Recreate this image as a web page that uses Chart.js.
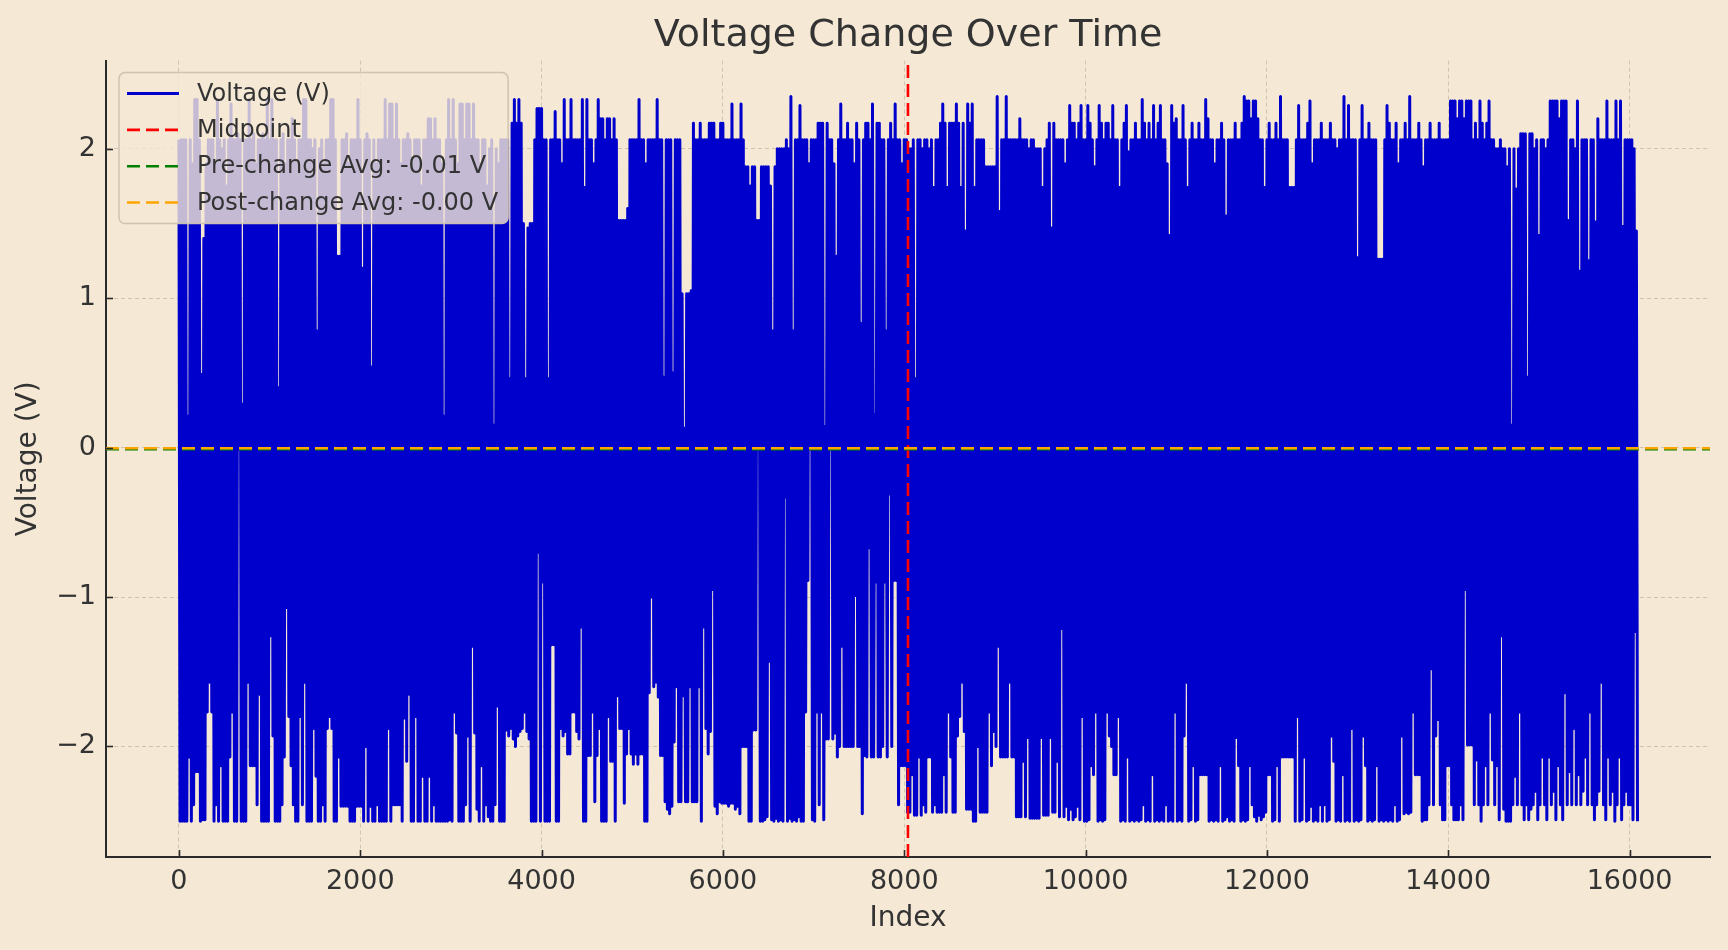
<!DOCTYPE html>
<html>
<head>
<meta charset="utf-8">
<script src="https://cdn.jsdelivr.net/npm/chart.js@4.4.1/dist/chart.umd.min.js"></script>
<style>
html,body{margin:0;padding:0;background:#f5e9d5;}
canvas{display:block;}
</style>
</head>
<body>
<canvas id="chart" width="1728" height="950"></canvas>
<script>
// ---- data ----
// Each pair (high, low) describes the voltage envelope over one block of 25 samples.
const sampleStep = 25;
const voltageHighs = [
 2.06,2.06,2.06,2.06,0.21,2.06,1.9,2.33,2.33,2.06, 0.49,1.4,1.9,2.06,2.06,2.06,1.9,2.33,2.06,2.0, 2.06,1.75,2.06,2.3,2.06,2.06,2.1,2.06,0.29,2.06, 2.06,2.33,2.06,2.1,1.9,2.06,2.06,2.1,2.06,2.33,
 2.06,2.33,2.06,2.06,0.4,2.06,2.1,1.9,2.06,2.06, 2.2,2.06,1.9,2.06,2.06,2.33,2.33,2.06,2.06,2.0, 2.06,0.78,2.0,2.06,1.9,2.06,2.06,2.33,2.33,2.06, 1.28,1.28,2.06,2.06,2.1,1.9,2.06,2.06,2.06,2.33,
 2.06,1.2,2.06,2.1,2.06,0.54,2.06,1.9,2.06,2.06, 2.06,2.33,2.06,2.3,2.3,2.06,2.3,2.06,1.9,2.06, 2.06,2.1,2.06,1.9,2.06,2.06,2.06,1.75,2.06,2.06, 2.2,2.2,2.06,2.2,2.06,2.06,1.9,0.21,2.06,2.33,
 2.06,2.33,2.06,1.9,2.3,2.3,2.06,2.3,2.3,2.06, 2.3,2.06,2.06,1.9,2.06,2.06,1.75,2.0,2.06,0.15, 2.0,1.9,2.06,2.06,2.06,2.06,0.46,2.17,2.33,2.17, 2.33,2.17,1.5,0.46,1.47,1.5,1.5,2.06,2.27,2.27,
 2.27,2.06,2.06,0.46,2.06,2.06,2.25,2.06,2.06,1.9, 2.33,2.06,2.06,2.33,2.06,2.06,2.06,2.06,2.33,1.74, 2.33,2.06,2.06,1.9,2.06,2.33,2.2,2.2,2.06,2.2, 2.2,2.06,2.2,2.06,1.52,1.52,1.52,1.52,1.6,2.06,
 2.06,2.06,2.06,2.33,2.06,2.06,1.9,2.06,2.06,2.06, 2.06,2.33,2.06,2.06,0.47,2.06,2.06,2.06,0.5,2.06, 2.06,2.06,1.03,0.13,1.03,1.03,1.05,2.17,2.06,2.06, 2.17,2.06,2.06,2.06,2.17,2.17,2.17,2.06,2.06,2.17,
 2.17,2.06,2.06,2.06,2.3,2.06,2.06,2.06,2.3,2.06, 1.88,1.88,1.75,1.88,1.88,1.52,1.52,1.88,1.88,1.88, 1.88,1.75,0.78,1.88,2.0,2.0,2.0,2.0,2.06,2.0, 2.35,0.78,2.06,2.06,2.29,2.06,2.06,2.06,1.9,2.06,
 2.06,2.06,2.17,2.17,2.17,0.14,2.17,2.06,2.06,1.9, 1.28,2.06,2.3,2.06,2.06,2.17,2.06,2.06,1.9,2.17, 2.06,0.83,2.06,2.17,2.17,2.06,2.3,0.22,2.17,2.17, 2.06,2.06,0.78,2.06,2.17,2.06,2.3,2.06,2.06,1.9,
 2.06,2.06,2.0,2.0,2.06,0.46,2.06,2.06,2.0,2.06, 2.06,2.0,2.06,1.74,2.06,2.06,2.17,2.3,2.17,1.74, 2.17,2.17,2.17,2.3,2.17,1.74,2.17,1.45,2.3,2.17, 2.3,1.74,2.06,2.06,2.06,2.06,1.88,1.88,1.88,1.88,
 1.88,2.35,1.58,2.06,2.06,2.35,2.06,2.06,2.06,2.06, 2.06,2.2,2.06,2.06,2.06,2.0,2.06,2.06,2.0,2.0, 2.0,1.74,2.0,2.06,2.17,1.47,2.17,2.06,2.06,2.06, 2.06,1.9,2.06,2.29,2.17,2.17,2.06,2.17,2.29,2.06,
 2.06,2.29,2.17,2.06,1.88,2.06,2.29,2.17,2.06,2.17, 2.17,2.06,2.29,2.06,2.06,1.74,2.06,2.17,2.29,1.98, 2.06,2.06,2.17,2.06,2.06,2.33,2.17,2.06,2.17,2.06, 2.29,2.06,2.17,2.29,2.06,2.06,1.9,1.42,2.29,2.17,
 2.2,2.06,2.06,2.29,2.06,1.74,2.06,2.17,2.06,2.06, 2.17,2.06,2.06,2.33,2.2,2.06,2.06,1.9,2.06,2.06, 2.17,2.06,1.55,2.06,2.06,2.06,2.17,2.06,2.06,2.17, 2.35,2.32,2.32,2.2,2.32,2.32,2.2,2.06,2.06,1.74,
 2.06,2.17,2.06,2.06,2.17,2.06,2.35,2.06,2.06,2.06, 1.74,1.74,1.74,2.06,2.29,2.06,2.06,2.06,2.17,2.32, 1.9,2.06,2.06,2.06,2.17,2.06,2.06,2.06,2.17,2.06, 2.06,2.0,2.06,2.06,2.35,2.06,2.29,2.06,2.06,2.06,
 1.27,2.06,2.29,2.06,2.06,2.17,2.06,2.06,2.06,1.26, 1.26,1.26,2.06,2.29,2.17,2.06,2.06,2.17,1.9,2.06, 2.06,2.17,2.06,2.35,2.06,2.06,2.06,2.17,2.06,1.88, 2.06,2.06,2.17,2.06,2.06,2.06,2.17,2.06,2.06,2.06,
 2.06,2.32,2.32,2.32,2.2,2.32,2.32,2.2,2.32,2.32, 2.32,2.06,2.17,2.06,2.32,2.17,2.06,2.17,2.32,2.06, 2.06,2.0,2.0,2.06,2.0,2.0,1.88,2.0,0.15,2.0, 1.73,2.0,2.1,2.1,2.1,0.47,2.1,2.1,2.0,2.06,
 1.42,2.06,2.06,2.0,2.06,2.32,2.32,2.32,2.32,2.2, 2.32,2.32,2.32,1.52,2.06,2.06,2.0,2.32,1.18,2.06, 2.06,2.06,1.25,2.06,2.06,1.51,2.2,2.06,2.06,2.06, 2.32,2.06,2.06,2.06,2.32,2.06,2.32,1.48,2.06,2.06,
 2.06,2.06,2.0,1.45
];
const voltageLows = [
 -2.5,-2.5,-2.5,-2.5,-2.07,-2.5,-2.39,-2.17,-2.17,-2.5, -2.49,-2.49,-1.77,-1.57,-1.77,-2.5,-2.39,-2.5,-2.13,-2.5, -2.5,-2.5,-2.07,-1.77,-2.5,-2.5,-0.01,-2.5,-2.5,-2.5, -1.57,-2.13,-2.13,-2.13,-2.39,-1.65,-2.5,-2.5,-2.5,-2.5,
 -1.26,-1.93,-2.5,-2.5,-2.5,-2.39,-2.07,-1.07,-1.8,-2.13, -2.39,-2.5,-2.5,-1.8,-2.39,-1.57,-2.5,-2.5,-2.5,-1.88, -2.2,-2.5,-2.5,-2.39,-2.5,-1.88,-1.8,-1.88,-2.5,-2.5, -2.07,-2.4,-2.4,-2.4,-2.4,-2.5,-2.5,-2.5,-2.4,-2.4,
 -2.4,-2.5,-2.0,-2.5,-2.4,-2.5,-2.5,-2.39,-2.5,-2.5, -2.5,-2.5,-1.88,-2.5,-2.39,-2.39,-2.39,-2.39,-2.5,-1.81, -2.1,-1.65,-2.5,-2.5,-1.8,-2.5,-2.5,-2.2,-2.5,-2.5, -2.2,-2.5,-2.39,-2.5,-2.5,-2.5,-2.5,-2.5,-2.5,-2.49,
 -2.5,-1.77,-1.91,-2.5,-2.5,-2.5,-2.39,-1.93,-2.5,-1.33, -1.91,-2.42,-2.5,-2.13,-2.5,-2.39,-2.47,-2.5,-2.5,-2.39, -1.73,-2.5,-2.5,-2.5,-1.89,-1.93,-1.88,-1.95,-2.0,-1.93, -1.9,-1.88,-1.77,-1.9,-1.95,-2.5,-2.5,-2.5,-0.7,-2.5,
 -0.9,-2.5,-2.5,-2.5,-1.32,-1.32,-2.5,-2.5,-1.88,-1.93, -1.9,-2.05,-2.05,-1.77,-1.77,-1.9,-1.95,-1.2,-2.5,-2.5, -2.06,-2.06,-1.77,-2.37,-2.06,-1.88,-2.5,-2.5,-2.5,-1.8, -2.1,-2.1,-2.5,-1.66,-1.88,-1.88,-2.38,-2.05,-1.88,-2.05,
 -2.12,-2.05,-2.12,-2.05,-2.05,-2.5,-2.5,-1.64,-1.0,-1.6, -1.57,-1.67,-2.06,-2.06,-2.37,-2.42,-2.45,-2.4,-1.97,-1.6, -2.37,-2.37,-1.66,-2.37,-2.37,-1.6,-2.37,-2.37,-2.37,-1.6, -2.5,-1.2,-1.88,-2.05,-1.9,-0.95,-2.4,-2.45,-2.37,-2.38,
 -2.38,-2.38,-2.4,-2.38,-2.38,-2.42,-2.4,-2.45,-2.0,-2.0, -2.0,-2.5,-2.5,-1.89,-1.89,-0.01,-2.5,-2.5,-2.49,-2.47, -1.43,-2.49,-2.5,-2.48,-2.5,-2.49,-2.5,-0.33,-2.5,-2.48, -2.5,-2.49,-2.5,-2.47,-2.5,-2.5,-1.77,-0.89,-0.01,-2.49,
 -2.5,-1.77,-2.39,-1.77,-2.49,-1.95,-1.95,-0.01,-1.95,-1.91, -2.07,-2.0,-1.33,-2.0,-2.0,-2.0,-2.0,-2.0,-0.99,-2.0, -2.0,-2.45,-2.06,-2.07,-0.67,-2.07,-2.07,-0.9,-2.07,-2.07, -2.0,-0.9,-2.07,-0.31,-2.0,-0.89,-0.89,-2.39,-2.13,-2.13,
 -2.13,-2.44,-2.44,-2.19,-2.46,-2.46,-2.07,-2.46,-2.39,-2.44, -2.07,-2.07,-2.44,-2.39,-2.44,-2.44,-2.44,-2.19,-2.44,-1.77, -2.07,-2.44,-2.44,-1.93,-1.8,-1.57,-1.9,-2.42,-2.42,-2.42, -2.5,-2.5,-2.0,-2.44,-2.44,-2.44,-2.44,-1.77,-2.13,-1.9,
 -2.0,-1.33,-2.07,-2.07,-2.07,-2.07,-1.57,-2.07,-2.07,-2.47, -2.47,-2.47,-2.1,-2.47,-1.94,-2.48,-2.48,-2.48,-2.48,-2.48, -1.94,-2.46,-2.46,-2.46,-1.94,-2.44,-2.44,-2.1,-2.47,-1.21, -2.47,-2.4,-2.49,-2.42,-2.49,-2.47,-2.4,-2.49,-1.8,-2.5,
 -2.5,-2.49,-2.13,-2.19,-1.77,-2.5,-2.49,-2.5,-2.49,-1.77, -1.93,-2.0,-2.19,-2.19,-1.8,-2.5,-2.49,-2.5,-2.07,-2.5, -2.49,-2.5,-2.49,-2.5,-2.49,-2.39,-2.5,-2.49,-2.5,-2.19, -2.5,-2.49,-2.5,-2.49,-2.5,-2.39,-2.5,-2.49,-2.5,-1.77,
 -2.5,-2.49,-2.5,-1.93,-1.57,-2.5,-2.49,-2.13,-2.5,-2.49, -2.19,-2.19,-2.19,-2.19,-2.5,-2.49,-2.5,-2.49,-2.5,-2.13, -2.5,-2.49,-2.47,-2.5,-2.49,-2.5,-1.94,-2.13,-2.5,-2.49, -2.5,-2.49,-2.13,-2.39,-2.47,-2.5,-2.46,-2.49,-2.47,-2.44,
 -2.19,-2.19,-2.5,-2.49,-2.13,-2.5,-2.07,-2.07,-2.07,-2.07, -2.07,-2.07,-2.5,-1.8,-2.5,-2.49,-2.07,-2.5,-2.49,-2.4, -2.5,-2.49,-2.5,-2.39,-2.5,-2.39,-2.5,-2.49,-1.93,-2.1, -2.5,-2.49,-2.5,-2.19,-2.5,-2.49,-2.5,-1.88,-2.5,-2.49,
 -2.5,-2.49,-1.93,-2.13,-2.5,-2.49,-2.5,-2.49,-2.13,-2.5, -2.49,-2.5,-2.49,-2.5,-2.49,-2.5,-2.39,-2.5,-2.49,-1.93, -2.45,-2.44,-2.45,-2.44,-1.77,-2.19,-2.19,-2.19,-2.5,-2.49, -2.49,-2.39,-1.48,-2.39,-1.93,-1.82,-2.39,-2.49,-2.49,-2.13,
 -2.13,-2.39,-2.49,-2.49,-2.49,-2.39,-2.49,-0.95,-1.99,-1.99, -1.99,-2.39,-2.09,-2.39,-2.5,-2.39,-2.13,-2.39,-1.77,-2.09, -2.39,-2.13,-2.49,-1.26,-2.42,-2.5,-2.5,-2.5,-2.39,-2.2, -2.39,-1.77,-2.39,-2.49,-2.39,-2.49,-2.42,-2.39,-2.3,-2.49,
 -2.39,-2.07,-2.39,-2.49,-2.07,-2.39,-2.3,-2.49,-2.13,-2.39, -2.49,-1.64,-2.39,-2.17,-2.39,-1.88,-2.39,-2.19,-2.39,-2.3, -2.07,-2.39,-1.77,-2.39,-2.49,-2.39,-2.3,-1.57,-2.39,-2.49, -2.07,-2.39,-2.3,-2.5,-2.39,-2.07,-2.49,-2.39,-2.3,-2.39,
 -2.39,-2.49,-1.23,-2.5
];
const midpointIndex = 8041;
const preChangeAvg = -0.01;
const postChangeAvg = -0.004;
const xTickValues = [0, 2000, 4000, 6000, 8000, 10000, 12000, 14000, 16000];
const yTickValues = [-2, -1, 0, 1, 2];
const xLimits = [-804, 16887];
const yLimits = [-2.74, 2.59];

// ---- build the series the library needs ----
const voltagePoints = [];
voltageHighs.forEach((hi, i) => {
  voltagePoints.push({x: i * sampleStep, y: hi});
  voltagePoints.push({x: i * sampleStep + sampleStep / 2, y: voltageLows[i]});
});

const BG = '#f5e9d5';
const TEXT = '#333333';
const FONT = '"DejaVu Sans", "Noto Sans", sans-serif';
Chart.defaults.font.family = FONT;
Chart.defaults.color = TEXT;

const bgPlugin = {
  id: 'bg',
  beforeDraw(chart) {
    const {ctx, width, height} = chart;
    ctx.save(); ctx.fillStyle = BG; ctx.fillRect(0, 0, width, height); ctx.restore();
  }
};

const innerTicks = {
  id: 'innerTicks',
  afterDatasetsDraw(chart) {
    const {ctx, chartArea, scales} = chart;
    ctx.save();
    ctx.strokeStyle = '#2b2b2b';
    ctx.lineWidth = 1.6;
    scales.x.ticks.forEach(t => {
      const px = Math.round(scales.x.getPixelForValue(t.value)) + 0.5;
      ctx.beginPath(); ctx.moveTo(px, chartArea.bottom); ctx.lineTo(px, chartArea.bottom - 7); ctx.stroke();
    });
    scales.y.ticks.forEach(t => {
      const py = Math.round(scales.y.getPixelForValue(t.value)) + 0.5;
      ctx.beginPath(); ctx.moveTo(chartArea.left, py); ctx.lineTo(chartArea.left + 7, py); ctx.stroke();
    });
    ctx.restore();
  }
};

const insideLegend = {
  id: 'insideLegend',
  afterDraw(chart) {
    const {ctx, chartArea} = chart;
    const items = chart.data.datasets.map(ds => ({
      label: ds.label, color: ds.borderColor, dash: ds.borderDash || [], width: ds.borderWidth
    }));
    ctx.save();
    ctx.font = '24px ' + FONT;
    const textW = Math.max(...items.map(it => ctx.measureText(it.label).width));
    const x0 = chartArea.left + 13, y0 = chartArea.top + 12;
    const padL = 8, handleLen = 52, gap = 18, padR = 10, firstRow = 21, rowH = 36.3;
    const w = padL + handleLen + gap + textW + padR;
    const h = firstRow + rowH * (items.length - 1) + 21;
    const r = 6;
    ctx.beginPath();
    ctx.moveTo(x0 + r, y0);
    ctx.lineTo(x0 + w - r, y0); ctx.arcTo(x0 + w, y0, x0 + w, y0 + r, r);
    ctx.lineTo(x0 + w, y0 + h - r); ctx.arcTo(x0 + w, y0 + h, x0 + w - r, y0 + h, r);
    ctx.lineTo(x0 + r, y0 + h); ctx.arcTo(x0, y0 + h, x0, y0 + h - r, r);
    ctx.lineTo(x0, y0 + r); ctx.arcTo(x0, y0, x0 + r, y0, r);
    ctx.closePath();
    ctx.fillStyle = 'rgba(245,233,213,0.8)';
    ctx.fill();
    ctx.strokeStyle = 'rgba(204,194,176,0.95)';
    ctx.lineWidth = 1.5;
    ctx.stroke();
    items.forEach((it, i) => {
      const cy = y0 + firstRow + i * rowH;
      ctx.beginPath();
      ctx.setLineDash(it.dash);
      ctx.strokeStyle = it.color;
      ctx.lineWidth = it.width;
      ctx.lineCap = 'butt';
      ctx.moveTo(x0 + padL, cy); ctx.lineTo(x0 + padL + handleLen, cy);
      ctx.stroke();
      ctx.setLineDash([]);
      ctx.fillStyle = TEXT;
      ctx.textBaseline = 'middle';
      ctx.textAlign = 'left';
      ctx.fillText(it.label, x0 + padL + handleLen + gap, cy + 1);
    });
    ctx.restore();
  }
};

const fmtMinus = v => (v < 0 ? '\u2212' + Math.abs(v) : String(v));

new Chart(document.getElementById('chart'), {
  type: 'line',
  data: {
    datasets: [
      {
        label: 'Voltage (V)',
        data: voltagePoints,
        borderColor: 'rgb(0,0,205)',
        borderWidth: 3,
        borderJoinStyle: 'round',
        pointRadius: 0,
        tension: 0,
        fill: false,
        order: 4
      },
      {
        label: 'Midpoint',
        data: [{x: midpointIndex, y: yLimits[0]}, {x: midpointIndex, y: yLimits[1]}],
        borderColor: '#ff0000',
        borderWidth: 2.6,
        borderDash: [13, 6],
        pointRadius: 0,
        fill: false,
        order: 3
      },
      {
        label: 'Pre-change Avg: ' + preChangeAvg.toFixed(2) + ' V',
        data: [{x: xLimits[0], y: preChangeAvg}, {x: xLimits[1], y: preChangeAvg}],
        borderColor: '#008000',
        borderWidth: 2.6,
        borderDash: [13, 6],
        pointRadius: 0,
        fill: false,
        order: 2
      },
      {
        label: 'Post-change Avg: ' + postChangeAvg.toFixed(2) + ' V',
        data: [{x: xLimits[0], y: postChangeAvg}, {x: xLimits[1], y: postChangeAvg}],
        borderColor: '#ffa500',
        borderWidth: 2.6,
        borderDash: [13, 6],
        pointRadius: 0,
        fill: false,
        order: 1
      }
    ]
  },
  options: {
    responsive: false,
    devicePixelRatio: 1,
    animation: false,
    events: [],
    layout: {padding: {left: 0, right: 18, top: 0, bottom: 0}},
    plugins: {
      legend: {display: false},
      tooltip: {enabled: false},
      title: {
        display: true,
        fullSize: false,
        text: 'Voltage Change Over Time',
        color: TEXT,
        font: {size: 38, weight: 'normal', family: FONT, lineHeight: 1.2},
        padding: {top: 13, bottom: 2}
      }
    },
    scales: {
      x: {
        type: 'linear',
        min: xLimits[0],
        max: xLimits[1],
        afterBuildTicks: s => { s.ticks = xTickValues.map(v => ({value: v})); },
        afterFit: s => { s.height = 93; },
        ticks: {
          autoSkip: false, maxRotation: 0, padding: 9,
          font: {size: 27}, color: TEXT,
          callback: v => String(v)
        },
        grid: {display: true, drawTicks: false, color: 'rgba(160,150,130,0.45)', lineWidth: 1},
        border: {display: true, color: '#2b2b2b', width: 2, dash: [4, 3]},
        title: {display: true, text: 'Index', font: {size: 28}, color: TEXT, padding: {top: 0, bottom: 14}}
      },
      y: {
        type: 'linear',
        min: yLimits[0],
        max: yLimits[1],
        afterBuildTicks: s => { s.ticks = yTickValues.map(v => ({value: v})); },
        afterFit: s => { s.width = 106; },
        ticks: {
          autoSkip: false, padding: 10,
          font: {size: 27}, color: TEXT,
          callback: v => fmtMinus(v)
        },
        grid: {display: true, drawTicks: false, color: 'rgba(160,150,130,0.45)', lineWidth: 1},
        border: {display: true, color: '#2b2b2b', width: 2, dash: [4, 3]},
        title: {display: true, text: 'Voltage (V)', font: {size: 28}, color: TEXT, padding: {top: 12, bottom: 0}}
      }
    }
  },
  plugins: [bgPlugin, innerTicks, insideLegend]
});
</script>
</body>
</html>
